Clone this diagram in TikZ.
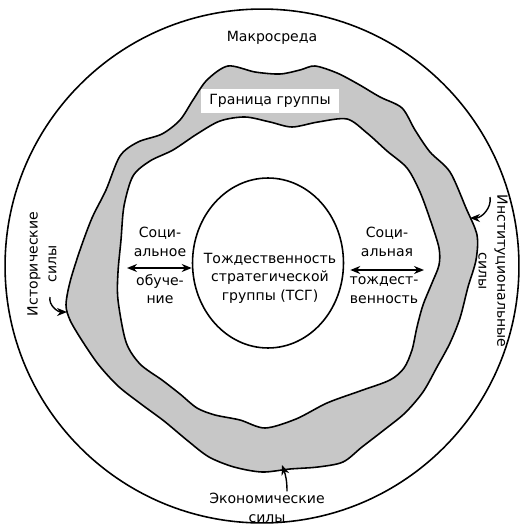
\documentclass[tikz,border=0pt]{standalone}
\usepackage{fontspec}
\setmainfont{DejaVu Sans}
\usetikzlibrary{arrows.meta,calc,positioning,shapes.geometric}
\definecolor{bandgray}{rgb}{0.78,0.78,0.78}
\tikzset{
  rotulo/.style={
    align=center,
    inner sep=1pt,
    font=\fontsize{8}{10.6}\selectfont
  },
  contorno/.style={
    draw=black,
    line width=0.9pt
  },
  doble/.style={
    {Stealth[length=2mm,width=1.6mm]}-{Stealth[length=2mm,width=1.6mm]},
    line width=0.9pt
  },
  fuerza/.style={
    -{Stealth[length=2mm,width=1.6mm]},
    line width=0.8pt
  }
}

\begin{document}
\begin{tikzpicture}[x=0.02cm,y=-0.02cm]
\useasboundingbox (0,0) rectangle (524,530);
\node[circle,contorno,minimum size=10.28cm,inner sep=0pt] (macro) at (262,266) {};
\node[rotulo] (macrolbl) at (272,38) {Макросреда};

\fill[bandgray,even odd rule]
  plot[smooth cycle] coordinates {(66,305) (70,282) (80,250) (92,218) (106,190) (120,156) (138,142) (162,134) (180,120) (193,100) (207,80) (228,66) (255,72) (280,74) (300,70) (315,66) (337,73) (358,84) (380,97) (402,108) (415,130) (430,152) (450,172) (466,208) (477,235) (476,260) (468,287) (460,318) (450,343) (437,367) (423,392) (405,413) (384,430) (362,447) (343,462) (318,467) (290,469) (262,472) (234,467) (209,457) (188,441) (164,421) (141,404) (118,386) (98,364) (81,339) (70,320)}
  plot[smooth cycle] coordinates {(118,300) (118,272) (121,240) (124,206) (133,176) (150,161) (173,150) (197,134) (220,121) (245,117) (270,122) (292,127) (318,122) (347,119) (367,133) (387,151) (407,168) (420,192) (431,222) (439,248) (439,265) (432,283) (423,305) (417,327) (412,350) (404,368) (390,380) (360,391) (327,403) (296,419) (265,428) (240,420) (215,415) (197,408) (180,394) (162,380) (140,364) (126,342)};
\draw[contorno] plot[smooth cycle] coordinates {(66,305) (70,282) (80,250) (92,218) (106,190) (120,156) (138,142) (162,134) (180,120) (193,100) (207,80) (228,66) (255,72) (280,74) (300,70) (315,66) (337,73) (358,84) (380,97) (402,108) (415,130) (430,152) (450,172) (466,208) (477,235) (476,260) (468,287) (460,318) (450,343) (437,367) (423,392) (405,413) (384,430) (362,447) (343,462) (318,467) (290,469) (262,472) (234,467) (209,457) (188,441) (164,421) (141,404) (118,386) (98,364) (81,339) (70,320)};
\draw[contorno] plot[smooth cycle] coordinates {(118,300) (118,272) (121,240) (124,206) (133,176) (150,161) (173,150) (197,134) (220,121) (245,117) (270,122) (292,127) (318,122) (347,119) (367,133) (387,151) (407,168) (420,192) (431,222) (439,248) (439,265) (432,283) (423,305) (417,327) (412,350) (404,368) (390,380) (360,391) (327,403) (296,419) (265,428) (240,420) (215,415) (197,408) (180,394) (162,380) (140,364) (126,342)};
\node[rotulo,fill=white,inner xsep=5pt,inner ysep=3pt] (frontera) at (270,101) {Граница группы};

\node[ellipse,contorno,minimum width=3.02cm,minimum height=3.4cm,inner sep=0pt] (tsg) at (268,263) {};
\node[rotulo] (tsglbl) at (270,278) {Тождественность\\стратегической\\группы (ТСГ)};

\coordinate (bandL) at (127,268);
\coordinate (bandR) at (424,270);
\draw[doble] (bandL) -- (bandL -| tsg.west);
\draw[doble] (bandR -| tsg.east) ++(6,0) coordinate (tsgR) (tsgR) -- (bandR);
\node[rotulo] (aprend1) at (160,242) {Соци-\\альное};
\node[rotulo] (aprend2) at (160,289) {обуче-\\ние};
\node[rotulo] (ident1) at (387,242) {Соци-\\альная};
\node[rotulo] (ident2) at (384,290) {тождест-\\венность};

\node[rotulo,rotate=90] (hist) at (42,264) {Исторические\\силы};
\coordinate (histfrom) at (50,297);
\coordinate (histto) at (67,312);
\draw[fuerza] (histfrom) to[out=-100,in=180] (histto);

\node[rotulo,rotate=-90] (inst) at (493,271) {Институциональные\\силы};
\coordinate (instfrom) at (490,197);
\coordinate (instto) at (470,218);
\draw[fuerza] (instfrom) to[out=-80,in=0] (instto);

\node[rotulo] (econ) at (267,508) {Экономические\\силы};
\coordinate (econto) at (282,465);
\draw[fuerza] (econ.north -| 287,0) to[out=90,in=-70] (econto);
\end{tikzpicture}
\end{document}
